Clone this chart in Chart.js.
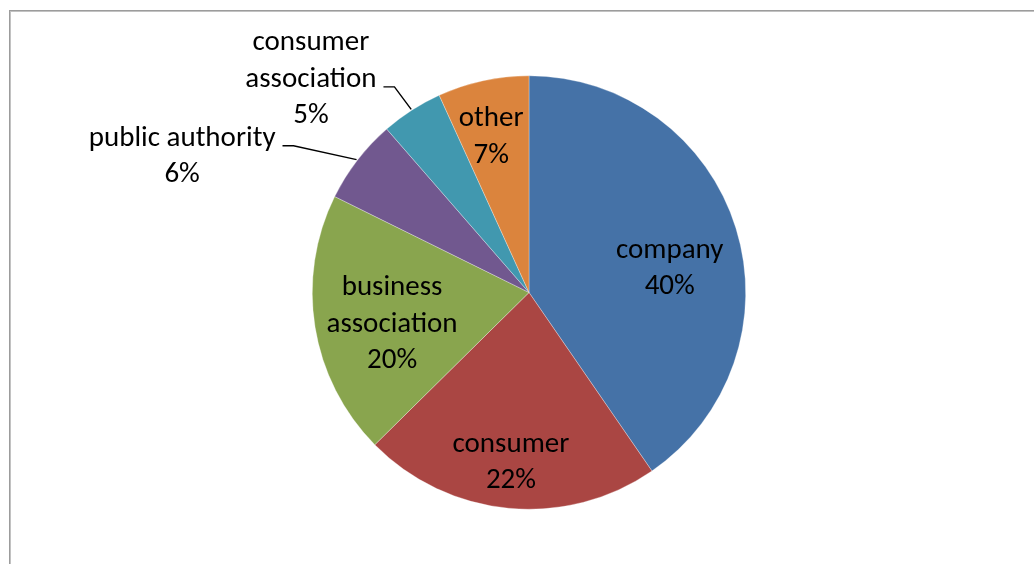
<!DOCTYPE html>
<html>
<head>
<meta charset="utf-8">
<script src="https://cdn.jsdelivr.net/npm/chart.js@4/dist/chart.umd.min.js"></script>
<style>
  html, body { margin: 0; padding: 0; background: #ffffff; }
  #wrap { width: 1034px; height: 564px; position: relative; }
  canvas { display: block; }
</style>
</head>
<body>
<div id="wrap"><canvas id="c" width="1034" height="564"></canvas></div>
<script>
// ---- data ----
const categories = ['company', 'consumer', 'business association', 'public authority', 'consumer association', 'other'];
const shares = [40.4, 22.2, 19.7, 6.3, 4.6, 6.8];
const percentLabels = ['40%', '22%', '20%', '6%', '5%', '7%'];

// ---- styles ----
const sliceColors = ['#4572A7', '#AA4643', '#89A54E', '#71588F', '#4198AF', '#DB843D'];
const labelFont = '29px Carlito, Calibri, Lato, sans-serif';
const lineHeight = 36.5;
// per-slice label placement: angular offset from slice mid-angle (deg), distance in radii, wrap words, outside with leader
const labelPlacement = [
  { dAngle: 7.0,   dist: 0.660, wrap: false, outside: false },
  { dAngle: 0.7,   dist: 0.783, wrap: false, outside: false },
  { dAngle: -3.2,  dist: 0.647, wrap: true,  outside: false },
  { dAngle: -16.0, dist: 1.722, wrap: false, outside: true },
  { dAngle: -12.7, dist: 1.412, wrap: true,  outside: true },
  { dAngle: -1.3,  dist: 0.745, wrap: false, outside: false }
];

const framePlugin = {
  id: 'frame',
  beforeDraw(chart) {
    const ctx = chart.ctx;
    ctx.save();
    ctx.fillStyle = '#ffffff';
    ctx.fillRect(0, 0, chart.width, chart.height);
    ctx.fillStyle = '#9c9c9c';
    ctx.fillRect(9, 10, 1, chart.height - 10);
    ctx.fillRect(9, 10, chart.width - 9, 1);
    ctx.fillStyle = '#c2c2c2';
    ctx.fillRect(10, 11, 1, chart.height - 11);
    ctx.fillRect(10, 11, chart.width - 10, 1);
    ctx.restore();
  }
};

const labelPlugin = {
  id: 'sliceLabels',
  afterDatasetsDraw(chart) {
    const ctx = chart.ctx;
    const meta = chart.getDatasetMeta(0);
    ctx.save();
    ctx.font = labelFont;
    ctx.fillStyle = '#000000';
    ctx.textAlign = 'center';
    ctx.textBaseline = 'alphabetic';
    meta.data.forEach((arc, i) => {
      const p = arc.getProps(['x', 'y', 'startAngle', 'endAngle', 'outerRadius'], true);
      const place = labelPlacement[i];
      const mid = (p.startAngle + p.endAngle) / 2;
      const ang = mid + place.dAngle * Math.PI / 180;
      const cx = p.x + Math.cos(ang) * p.outerRadius * place.dist;
      const cy = p.y + Math.sin(ang) * p.outerRadius * place.dist;
      const nameLines = place.wrap ? categories[i].split(' ') : [categories[i]];
      const lines = nameLines.concat([percentLabels[i]]);
      const n = lines.length;
      const firstBase = cy - (n - 1) / 2 * lineHeight + 9;
      let widest = 0, widestIdx = 0;
      lines.forEach((t, k) => {
        ctx.fillText(t, cx, firstBase + k * lineHeight);
        const w = ctx.measureText(t).width;
        if (w > widest) { widest = w; widestIdx = k; }
      });
      if (place.outside) {
        const ly = firstBase + widestIdx * lineHeight;
        const x0 = cx + widest / 2 + 7;
        const x1 = x0 + 11;
        const ex = p.x + Math.cos(mid) * (p.outerRadius + 1);
        const ey = p.y + Math.sin(mid) * (p.outerRadius + 1);
        ctx.beginPath();
        ctx.strokeStyle = '#000000';
        ctx.lineWidth = 1.4;
        ctx.moveTo(x0, ly);
        ctx.lineTo(x1, ly);
        ctx.lineTo(ex, ey);
        ctx.stroke();
      }
    });
    ctx.restore();
  }
};

new Chart(document.getElementById('c'), {
  type: 'pie',
  data: {
    labels: categories,
    datasets: [{
      data: shares,
      backgroundColor: sliceColors,
      borderWidth: 0.6,
      borderColor: 'rgba(255,255,255,0.5)'
    }]
  },
  options: {
    responsive: false,
    animation: false,
    layout: { padding: { left: 312, right: 288, top: 75.5, bottom: 54.5 } },
    plugins: {
      legend: { display: false },
      tooltip: { enabled: false }
    }
  },
  plugins: [framePlugin, labelPlugin]
});
</script>
</body>
</html>
